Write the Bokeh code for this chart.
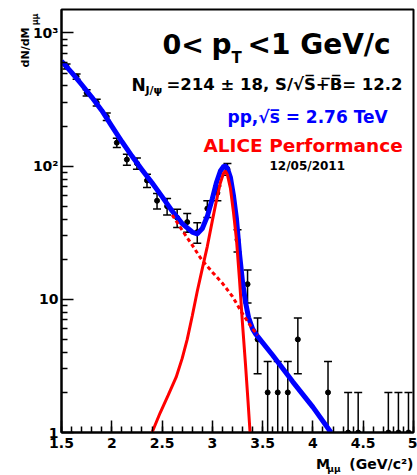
import numpy as np
from bokeh.plotting import figure
from bokeh.models import (Range1d, FixedTicker, Label, Title, NumeralTickFormatter,
                          CustomJSTickFormatter)
from bokeh.embed import file_html
from bokeh.resources import INLINE

# Dimuon invariant-mass spectrum, 0 < pT < 1 GeV/c, counts per 0.1 GeV/c^2 bin
mass = [1.55, 1.65, 1.75, 1.85, 1.95, 2.05, 2.15, 2.25, 2.35, 2.45,
        2.55, 2.65, 2.75, 2.85, 2.95, 3.05, 3.15, 3.25, 3.35, 3.45,
        3.55, 3.65, 3.75, 3.85, 4.15, 4.35, 4.45, 4.75, 4.85, 4.95]
counts = [560, 470, 355, 300, 235, 150, 112, 105, 78, 55,
          50, 41, 38, 32, 48, 63, 95, 28, 13, 5,
          2, 2, 2, 5, 2, 1, 1, 1, 1, 1]

# Total fit (signal + background)
fit_x = [1.50, 1.60, 1.70, 1.80, 1.90, 2.00, 2.10, 2.20, 2.30, 2.40,
         2.50, 2.60, 2.70, 2.80, 2.85, 2.90, 2.95, 3.00, 3.04, 3.08,
         3.11, 3.13, 3.15, 3.18, 3.21, 3.24, 3.27, 3.30, 3.33, 3.36,
         3.40, 3.43, 3.60, 3.80, 4.00, 4.18]
fit_total = [615, 505, 410, 330, 262, 200, 153, 119, 94, 75,
             59, 46, 37, 32, 31, 34, 42, 57, 75, 92,
             99, 100, 96, 82, 60, 40, 22, 13.5, 9.5, 7.3,
             6.0, 5.5, 3.8, 2.4, 1.55, 1.0]

# J/psi signal shape
sig_x = [2.40, 2.48, 2.56, 2.64, 2.70, 2.75, 2.80, 2.85, 2.90, 2.95,
         3.00, 3.04, 3.08, 3.11, 3.13, 3.15, 3.18, 3.21, 3.24, 3.27,
         3.30, 3.33, 3.355, 3.375]
sig_y = [1.0, 1.4, 1.9, 2.6, 3.6, 5.0, 7.5, 11.5, 17, 25,
         39, 55, 75, 88, 92, 86, 68, 45, 28, 14,
         6.5, 3.2, 1.7, 1.0]

# Background under the peak
bkg_x = [2.60, 2.70, 2.80, 2.90, 3.00, 3.10, 3.20, 3.30, 3.40, 3.45]
bkg_y = [43, 33, 25.5, 19.5, 16, 13.2, 10.5, 7.8, 6.0, 5.4]

x_major = [1.5, 2, 2.5, 3, 3.5, 4, 4.5, 5]
y_major = [1, 10, 100, 1000]

XMIN, XMAX, YMIN, YMAX = 1.5, 5.0, 1.0, 1500.0
W, H = 417, 475
L, R, T, B = 61, 4, 9, 43
FONT = "DejaVu Sans"

p = figure(width=W, height=H, x_range=Range1d(XMIN, XMAX), y_range=Range1d(YMIN, YMAX),
           y_axis_type="log", output_backend="svg", toolbar_location=None,
           min_border_left=L, min_border_right=R, min_border_top=T, min_border_bottom=B)
p.xgrid.visible = False
p.ygrid.visible = False
p.background_fill_color = "white"
p.border_fill_color = "white"
p.outline_line_color = "black"
p.outline_line_width = 2

p.xaxis.ticker = FixedTicker(ticks=x_major,
                             minor_ticks=[round(1.5 + 0.1 * i, 2) for i in range(36)])
p.xaxis.formatter = NumeralTickFormatter(format="0.[0]")
p.yaxis.ticker = FixedTicker(ticks=y_major,
                             minor_ticks=[m * d for d in (1, 10, 100) for m in range(2, 10)])
p.yaxis.formatter = CustomJSTickFormatter(
    code="return ({1: '1', 10: '10', 100: '10\u00b2', 1000: '10\u00b3'})[tick] || '';")

for ax in (p.xaxis, p.yaxis):
    ax.axis_line_color = "black"
    ax.axis_line_width = 2
    ax.major_tick_line_color = "black"
    ax.minor_tick_line_color = "black"
    ax.major_tick_line_width = 1.5
    ax.minor_tick_line_width = 1.5
    ax.major_tick_in = 12
    ax.major_tick_out = 0
    ax.minor_tick_in = 6
    ax.minor_tick_out = 0
    ax.major_label_text_font = FONT
    ax.major_label_text_font_style = "bold"
    ax.major_label_text_font_size = "14px"
    ax.major_label_text_color = "black"
p.xaxis.major_label_standoff = 5
p.yaxis.major_label_standoff = 3

# Poisson error bars
cnt = np.array(counts, dtype=float)
err = np.sqrt(cnt)
upper = cnt + err
lower = cnt - err
lower = np.where(lower > 0, lower, 0.1)

p.segment(x0=mass, y0=lower, x1=mass, y1=upper, line_color="black", line_width=1.5)
p.scatter(mass, upper, marker="dash", size=8, line_color="black", line_width=1.5)
p.scatter(mass, lower, marker="dash", size=8, line_color="black", line_width=1.5)
p.scatter(mass, counts, marker="circle", size=5, fill_color="black", line_color="black")

p.line(fit_x, fit_total, line_color="#0000ff", line_width=5, line_join="round")
p.line(bkg_x, bkg_y, line_color="#ff0000", line_width=3, line_dash="4 3")
p.line(sig_x, sig_y, line_color="#ff0000", line_width=3)

# helpers placing in-frame text by canvas pixel position
px_per_x = (W - L - R) / (XMAX - XMIN)
px_per_dec = (H - T - B) / (np.log10(YMAX) - np.log10(YMIN))


def X(px):
    return XMIN + (px - L) / px_per_x


def Y(py):
    return 10 ** ((H - B - py) / px_per_dec)


def put(text, px, py, size, color="black"):
    p.add_layout(Label(x=X(px), y=Y(py), text=text, text_font=FONT,
                       text_font_size=f"{size}px", text_font_style="bold",
                       text_color=color, text_align="left", text_baseline="alphabetic"))


def side_title(text, side, size, offset, standoff, valign="bottom"):
    p.add_layout(Title(text=text, align="right", offset=offset, standoff=standoff,
                       vertical_align=valign, text_font=FONT, text_font_size=f"{size}px",
                       text_font_style="bold", text_color="black"), side)


# title
put("0<", 162, 44, 27)
put("p", 211, 44, 28)
put("T", 231, 57, 15)
put("<1 GeV/c", 247, 44, 28)

# yield line
put("N", 131, 84, 17)
put("J/\u03c8", 145, 90, 11)
put("=214 \u00b1 18, S/\u221aS\u0305+\u0305B\u0305= 12.2", 166, 84, 16.5)

put("pp,\u221as\u0305 = 2.76 TeV", 227, 116, 17, color="#0000ff")
put("ALICE Performance", 203, 145, 18.5, color="#ff0000")
put("12/05/2011", 269, 165, 12)

# axis titles (side panels, outside the frame)
side_title("M\u00a0\u00a0\u00a0\u00a0(GeV/c\u00b2)", "below", 14, 0, 6)
side_title("\u03bc\u03bc", "below", 9, 73, -22, valign="top")
side_title("\u03bc\u03bc", "left", 8, 4, -20)
side_title("dN/dM", "left", 11, 18, -4)

open("out.html", "w").write(file_html(p, INLINE))
